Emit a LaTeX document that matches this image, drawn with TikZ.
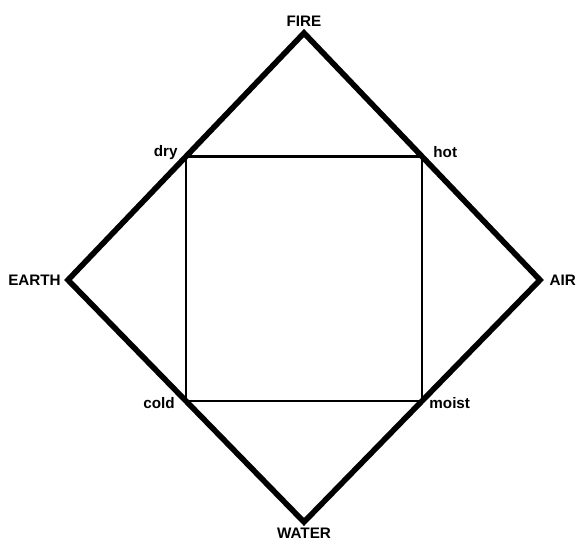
\documentclass[tikz,border=0pt]{standalone}
\usepackage{fontspec}
\setmainfont{Liberation Sans}
\usetikzlibrary{calc, positioning}
\tikzset{
    element/.style={font=\fontsize{13}{15}\selectfont\bfseries, inner sep=1pt},
    quality/.style={font=\fontsize{13}{15}\selectfont\bfseries, inner sep=1pt},
    outer/.style={line width=4.8pt, draw=black, miter limit=20},
    inner/.style={line width=2pt, draw=black}
}
\begin{document}
\begin{tikzpicture}[x=0.03cm, y=-0.03cm]
  \useasboundingbox (0,0) rectangle (576,542);

  % --- Elements (diamond corners) ---
  \coordinate (fire)  at (304,33);
  \coordinate (earth) at (68,280);
  \coordinate (air)   at (540,280);
  \coordinate (water) at (304,522);

  % --- Qualities (square corners) ---
  \coordinate (dry)   at ($(earth)!0.5!(fire)$);
  \coordinate (hot)   at ($(fire)!0.5!(air)$);
  \coordinate (moist) at ($(air)!0.5!(water)$);
  \coordinate (cold)  at ($(water)!0.5!(earth)$);

  % --- Lines ---
  \draw[outer] (fire) -- (air) -- (water) -- (earth) -- cycle;
  \draw[inner] (dry) -- (hot) -- (moist) -- (cold) -- cycle;

  % --- Labels ---
  \node[element, above=4pt of fire] (firelbl) {FIRE};
  \node[element, left=5pt of earth] (earthlbl) {EARTH};
  \node[element, right=7pt of air] (airlbl) {AIR};
  \node[element, below=4pt of water] (waterlbl) {WATER};

  \node[quality, anchor=east] (drylbl) at ($(dry)+(-7,-4)$) {dry};
  \node[quality, anchor=west] (hotlbl) at ($(hot)+(10,-4)$) {hot};
  \node[quality, anchor=east] (coldlbl) at ($(cold)+(-10,2)$) {cold};
  \node[quality, anchor=west] (moistlbl) at ($(moist)+(6,2)$) {moist};

\end{tikzpicture}
\end{document}
